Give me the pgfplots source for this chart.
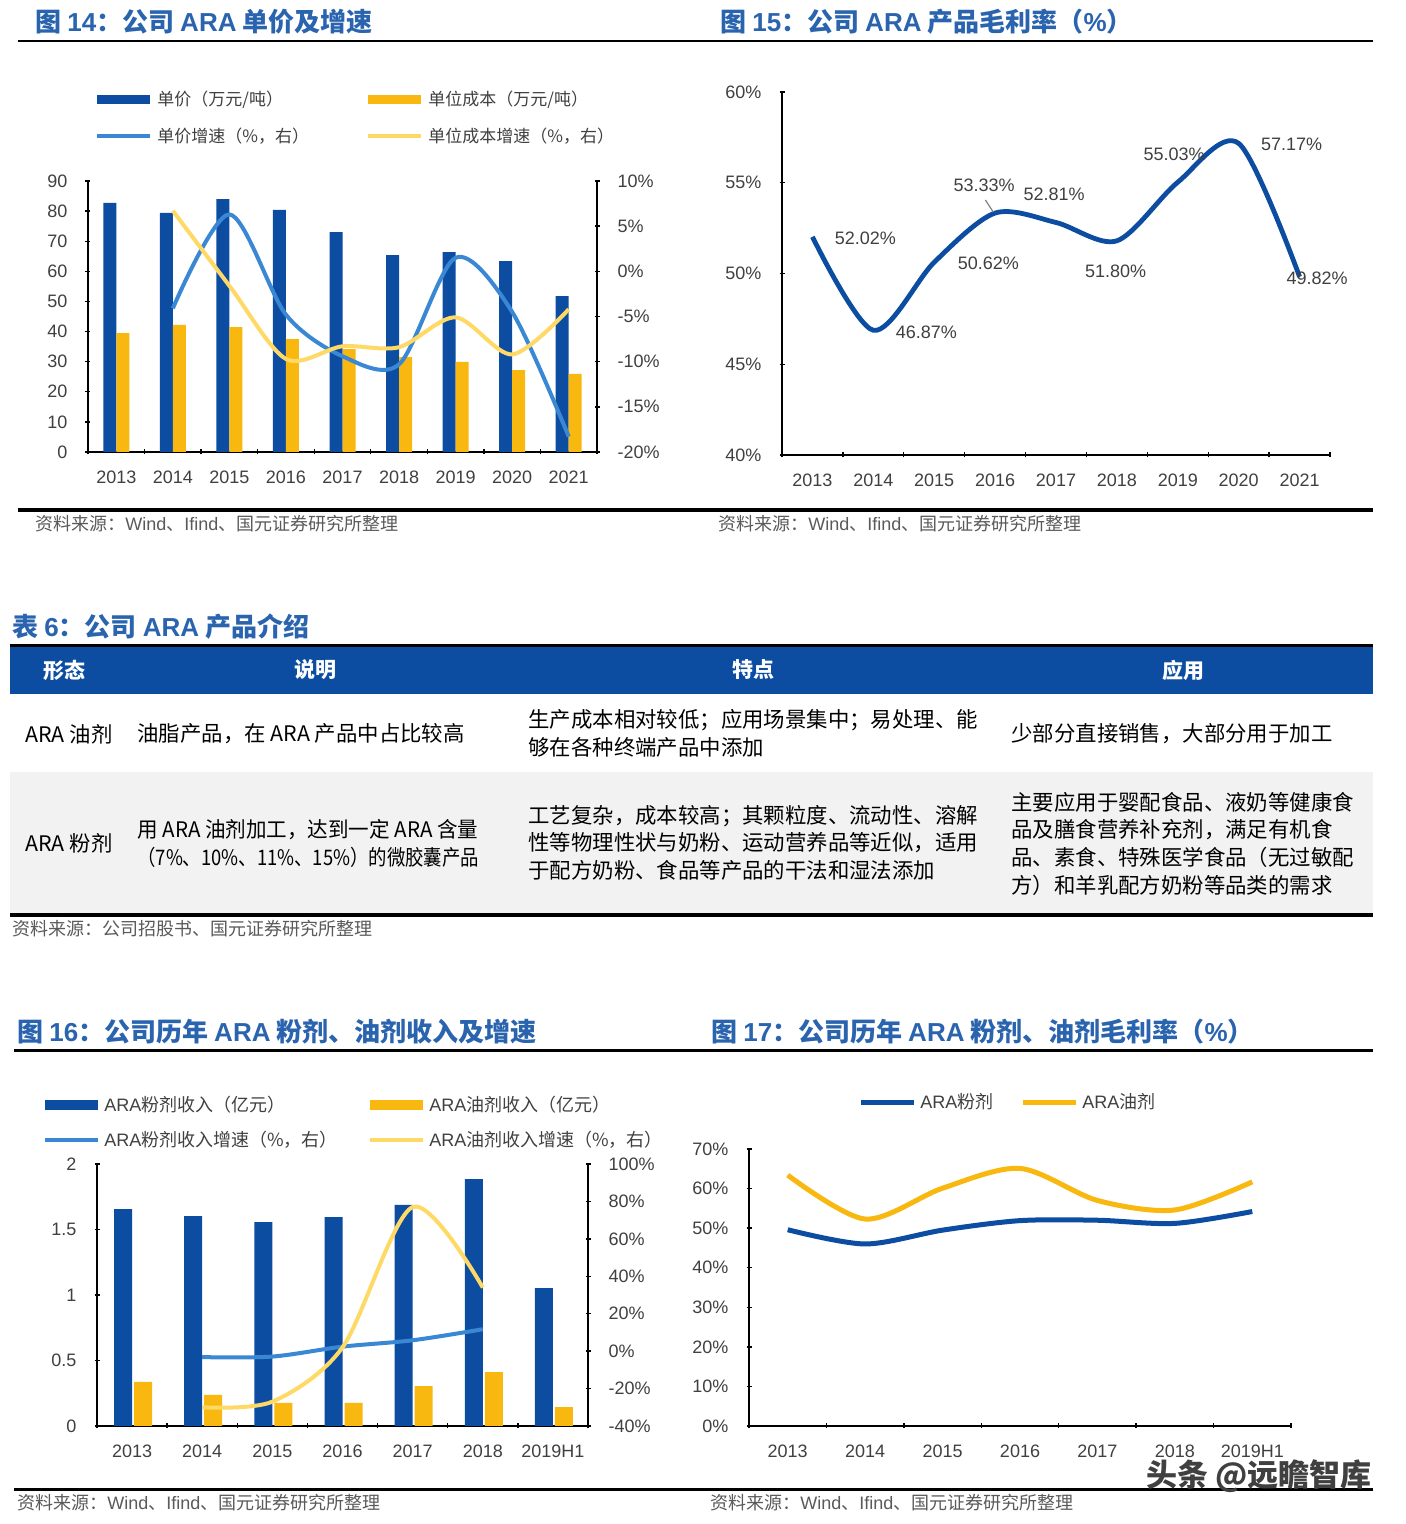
\documentclass[border=0pt]{standalone}
\usepackage{fontspec}
\setmainfont{Liberation Sans}
\newfontfamily\cjk{Noto Sans CJK SC}
\usepackage{graphicx}
\usepackage{pgfplots}
\pgfplotsset{compat=1.18}
\definecolor{barblue}{RGB}{12,77,162}
\definecolor{barorange}{RGB}{249,184,15}
\definecolor{lblue}{RGB}{58,136,212}
\definecolor{lyellow}{RGB}{255,217,102}
\definecolor{titleblue}{RGB}{42,100,175}
\definecolor{hdrblue}{RGB}{12,77,162}
\definecolor{rowgray}{RGB}{242,242,242}
\definecolor{txt}{RGB}{64,64,64}
\definecolor{srcgray}{RGB}{90,90,90}
\newcommand\zh[1]{{\cjk #1}}
\pgfplotsset{
  base/.style={scale only axis, anchor=south west, tick align=inside, major tick length=2.5pt,
    axis line style={line width=0.9pt, black},
    tick style={black, line width=0.7pt},
    tick label style={font=\fontsize{9}{10}\selectfont, text=txt},
    x tick label style={yshift=-4.7pt},
    /pgf/number format/assume math mode=true, clip=false,
    legend cell align=left,
    legend style={draw=none, fill=none, anchor=north west, text=txt,
      row sep=0pt, column sep=0pt, inner sep=0pt, nodes={inner sep=0pt, align=left}}},
  noarrow/.style={axis line style={-}, x axis line style={-}, y axis line style={-},
    every outer x axis line/.append style={-}, every outer y axis line/.append style={-},
    every inner x axis line/.append style={-}, every inner y axis line/.append style={-},
    every non boxed x axis/.append style={x axis line style={-}},
    every non boxed y axis/.append style={y axis line style={-}}},
  barlegA/.style={legend image code/.code={\fill[##1] (0pt,-2.25pt) rectangle (26.5pt,2.25pt); \path (29pt,0pt);}},
  barlegB/.style={legend image code/.code={\fill[##1] (0pt,-2.5pt) rectangle (26.5pt,2.5pt); \path (28.5pt,0pt);}},
  lineleg/.style={legend image code/.code={\draw[##1] (0pt,0pt) -- (26.5pt,0pt); \path (29pt,0pt);}},
  linelegB/.style={legend image code/.code={\draw[##1] (0pt,0pt) -- (26.5pt,0pt); \path (28.5pt,0pt);}},
  pct/.style={yticklabel={\pgfmathprintnumber{\tick}\%}},
}
\begin{document}
\begin{tikzpicture}
\useasboundingbox (0pt,0pt) rectangle (702.5pt,762pt);
\fill[white] (0pt,0pt) rectangle (702.5pt,762pt);
\begin{scope}[x=0.5pt,y=-0.5pt,shift={(0pt,762pt)}]
% rules
\draw[line width=1.4pt] (18,41) -- (1373,41);
\draw[line width=1.6pt] (18,510) -- (1373,510);
\draw[line width=1.4pt] (14,1050.5) -- (1373,1050.5);
\draw[line width=1.5pt] (14,1489.5) -- (1373,1489.5);
% titles
\begin{scope}[every node/.style={anchor=west, inner sep=0pt, text=titleblue, font=\fontsize{13}{15}\selectfont\bfseries}]
\node at (35,22) {\zh{图 }14\zh{：公司 }ARA\zh{ 单价及增速}};
\node at (720,22) {\zh{图 }15\zh{：公司 }ARA\zh{ 产品毛利率（}\%\zh{）}};
\node at (12,627) {\zh{表 }6\zh{：公司 }ARA\zh{ 产品介绍}};
\node at (17,1032) {\zh{图 }16\zh{：公司历年 }ARA\zh{ 粉剂、油剂收入及增速}};
\node at (711,1032) {\zh{图 }17\zh{：公司历年 }ARA\zh{ 粉剂、油剂毛利率（}\%\zh{）}};
\end{scope}
% sources
\begin{scope}[every node/.style={anchor=west, inner sep=0pt, text=srcgray, font=\fontsize{9}{10}\selectfont}]
\node at (35,524) {\zh{资料来源：}Wind\zh{、}Ifind\zh{、国元证券研究所整理}};
\node at (718,524) {\zh{资料来源：}Wind\zh{、}Ifind\zh{、国元证券研究所整理}};
\node at (12,929) {\zh{资料来源：公司招股书、国元证券研究所整理}};
\node at (17,1503) {\zh{资料来源：}Wind\zh{、}Ifind\zh{、国元证券研究所整理}};
\node at (710,1503) {\zh{资料来源：}Wind\zh{、}Ifind\zh{、国元证券研究所整理}};
\end{scope}
% table
\fill[hdrblue] (10,647) rectangle (1373,694);
\fill[rowgray] (10,772) rectangle (1373,913);
\draw[line width=1.5pt] (10,645.5) -- (1373,645.5);
\draw[line width=2pt] (10,915) -- (1373,915);
\begin{scope}[every node/.style={inner sep=0pt, text=white, font=\fontsize{10.5}{12}\selectfont\bfseries\cjk}]
\node at (64,670) {形态};
\node at (315,670) {说明};
\node at (753,670) {特点};
\node at (1183,670) {应用};
\end{scope}
\begin{scope}[every node/.style={anchor=west, inner sep=0pt, text=black, font=\fontsize{10.7}{12}\selectfont\cjk}]
\node at (25,734) {ARA 油剂};
\node at (137,734) {油脂产品，在 ARA 产品中占比较高};
\node at (528,720) {生产成本相对较低；应用场景集中；易处理、能};
\node at (528,747) {够在各种终端产品中添加};
\node at (1011,734) {少部分直接销售，大部分用于加工};
\node at (25,843) {ARA 粉剂};
\node at (137,830) {\scalebox{0.96}[1]{用 ARA 油剂加工，达到一定 ARA 含量}};
\node at (137,857) {\scalebox{0.86}[1]{（7\%、10\%、11\%、15\%）的微胶囊产品}};
\node at (528,816) {工艺复杂，成本较高；其颗粒度、流动性、溶解};
\node at (528,843) {性等物理性状与奶粉、运动营养品等近似，适用};
\node at (528,870) {于配方奶粉、食品等产品的干法和湿法添加};
\node at (1011,802) {主要应用于婴配食品、液奶等健康食};
\node at (1011,830) {品及膳食营养补充剂，满足有机食};
\node at (1011,857) {品、素食、特殊医学食品（无过敏配};
\node at (1011,885) {方）和羊乳配方奶粉等品类的需求};
\end{scope}
\end{scope}

% ===== Chart 14 =====
\begin{axis}[base, at={(44pt,536pt)}, width=254.5pt, height=135.5pt,
  xmin=-0.5, xmax=8.5, ymin=0, ymax=90, ytick={0,10,...,90},
  xtick={-0.5,0.5,...,8.5}, xticklabels={2013,2014,2015,2016,2017,2018,2019,2020,2021,{}},
  x tick label style={xshift=14.14pt},
  axis x line=bottom, axis y line=left, noarrow, y tick label style={xshift=-5.5pt},
  legend columns=2,
  legend style={at={(0.01375,1.3708)}, font=\fontsize{8.5}{10}\selectfont,
    nodes={text width=104.5pt, minimum height=18.5pt}}]
\addplot[ybar, bar width=6.5pt, bar shift=-3.25pt, fill=barblue, draw=none, barlegA]
  coordinates {(0,82.7)(1,79.4)(2,84)(3,80.4)(4,73)(5,65.4)(6,66.4)(7,63.4)(8,51.8)};
\addlegendentry{\zh{单价（万元/吨）}}
\addplot[ybar, bar width=6.5pt, bar shift=3.25pt, fill=barorange, draw=none, barlegA]
  coordinates {(0,39.5)(1,42.2)(2,41.5)(3,37.5)(4,34.2)(5,31.5)(6,29.9)(7,27.2)(8,25.9)};
\addlegendentry{\zh{单位成本（万元/吨）}}
\addlegendimage{lineleg, draw=lblue, line width=2pt}
\addlegendentry{\zh{单价增速（\%，右）}}
\addlegendimage{lineleg, draw=lyellow, line width=2pt}
\addlegendentry{\zh{单位成本增速（\%，右）}}
\end{axis}
\begin{axis}[base, at={(44pt,536pt)}, width=254.5pt, height=135.5pt,
  xmin=-0.5, xmax=8.5, ymin=-20, ymax=10, ytick={-20,-15,...,10}, pct,
  axis x line=none, axis y line=right, noarrow, y tick label style={xshift=5.5pt}]
\addplot[lblue, line width=2pt, smooth] coordinates {(1,-4.1)(2,6.3)(3,-4.8)(4,-9.4)(5,-10.3)(6,1.5)(7,-4.5)(8,-18.3)};
\addplot[lyellow, line width=2pt, smooth] coordinates {(1,6.7)(2,-1.6)(3,-9.7)(4,-8.3)(5,-8.4)(6,-5.1)(7,-9.2)(8,-4.2)};
\end{axis}

% ===== Chart 15 =====
\begin{axis}[base, at={(391pt,534.5pt)}, width=274pt, height=181.5pt,
  xmin=-0.5, xmax=8.5, ymin=40, ymax=60, ytick={40,45,...,60}, pct,
  xtick={-0.5,0.5,...,8.5}, xticklabels={2013,2014,2015,2016,2017,2018,2019,2020,2021,{}},
  x tick label style={xshift=15.22pt},
  axis x line=bottom, axis y line=left, noarrow, y tick label style={xshift=-5.5pt}]
\addplot[barblue, line width=2.4pt, smooth] coordinates {(0,52.02)(1,46.87)(2,50.62)(3,53.33)(4,52.81)(5,51.80)(6,55.03)(7,57.17)(8,49.82)};
\draw[gray, line width=0.6pt] (axis cs:2.84,54.05) -- (axis cs:2.97,53.38);
\begin{scope}[every node/.style={inner sep=0pt, text=txt, font=\fontsize{9}{10}\selectfont}]
\node at (axis cs:0.87,51.96) {52.02\%};
\node at (axis cs:1.87,46.78) {46.87\%};
\node at (axis cs:2.89,50.58) {50.62\%};
\node at (axis cs:2.82,54.88) {53.33\%};
\node at (axis cs:3.97,54.38) {52.81\%};
\node at (axis cs:4.98,50.14) {51.80\%};
\node at (axis cs:5.94,56.58) {55.03\%};
\node at (axis cs:7.87,57.13) {57.17\%};
\node at (axis cs:8.29,49.75) {49.82\%};
\end{scope}
\end{axis}

% ===== Chart 16 =====
\begin{axis}[base, at={(48.5pt,49pt)}, width=245.5pt, height=131pt,
  xmin=-0.5, xmax=6.5, ymin=0, ymax=2, ytick={0,0.5,1,1.5,2},
  xtick={-0.5,0.5,...,6.5}, xticklabels={2013,2014,2015,2016,2017,2018,2019H1,{}},
  x tick label style={xshift=17.54pt},
  axis x line=bottom, axis y line=left, noarrow, y tick label style={xshift=-5.5pt},
  legend columns=2,
  legend style={at={(-0.10998,1.29198)}, font=\fontsize{9}{10}\selectfont,
    nodes={text width=132pt, minimum height=17.5pt}}]
\addplot[ybar, bar width=9pt, bar shift=-4.5pt, fill=barblue, draw=none, barlegB]
  coordinates {(0,1.656)(1,1.603)(2,1.557)(3,1.595)(4,1.687)(5,1.885)(6,1.053)};
\addlegendentry{ARA\zh{粉剂收入（亿元）}}
\addplot[ybar, bar width=9pt, bar shift=5.5pt, fill=barorange, draw=none, barlegB]
  coordinates {(0,0.336)(1,0.237)(2,0.176)(3,0.176)(4,0.305)(5,0.412)(6,0.145)};
\addlegendentry{ARA\zh{油剂收入（亿元）}}
\addlegendimage{linelegB, draw=lblue, line width=2pt}
\addlegendentry{ARA\zh{粉剂收入增速（\%，右）}}
\addlegendimage{linelegB, draw=lyellow, line width=2pt}
\addlegendentry{ARA\zh{油剂收入增速（\%，右）}}
\end{axis}
\begin{axis}[base, at={(48.5pt,49pt)}, width=245.5pt, height=131pt,
  xmin=-0.5, xmax=6.5, ymin=-40, ymax=100, ytick={-40,-20,...,100}, pct,
  axis x line=none, axis y line=right, noarrow, y tick label style={xshift=5.5pt}]
\addplot[lblue, line width=2pt, smooth] coordinates {(1,-3.2)(2,-2.9)(3,2.4)(4,5.8)(5,11.7)};
\addplot[lyellow, line width=2pt, smooth] coordinates {(1,-30)(2,-27)(3,2)(4,77)(5,34)};
\end{axis}

% ===== Chart 17 =====
\begin{axis}[base, at={(374.5pt,49pt)}, width=271pt, height=138.5pt,
  xmin=-0.5, xmax=6.5, ymin=0, ymax=70, ytick={0,10,...,70}, pct,
  xtick={-0.5,0.5,...,6.5}, xticklabels={2013,2014,2015,2016,2017,2018,2019H1,{}},
  x tick label style={xshift=19.36pt},
  axis x line=bottom, axis y line=left, noarrow, y tick label style={xshift=-5.5pt},
  legend columns=2,
  legend style={at={(0.2011,1.2329)}, font=\fontsize{9}{10}\selectfont,
    nodes={text width=50pt, minimum height=17.5pt}}]
\addplot[barblue, line width=2.5pt, smooth, linelegB] coordinates {(0,49.6)(1,46.0)(2,49.5)(3,51.9)(4,52.0)(5,51.2)(6,54.2)};
\addlegendentry{ARA\zh{粉剂}}
\addplot[barorange, line width=2.5pt, smooth, linelegB] coordinates {(0,63.4)(1,52.3)(2,60.1)(3,65.1)(4,57.0)(5,54.6)(6,61.7)};
\addlegendentry{ARA\zh{油剂}}
\end{axis}

\begin{scope}[x=0.5pt,y=-0.5pt,shift={(0pt,762pt)}]
\node[anchor=east, inner sep=0pt, text=black!75, font=\fontsize{15.5}{17}\selectfont\bfseries\cjk] at (1372,1476) {头条 @远瞻智库};
\end{scope}
\end{tikzpicture}
\end{document}
